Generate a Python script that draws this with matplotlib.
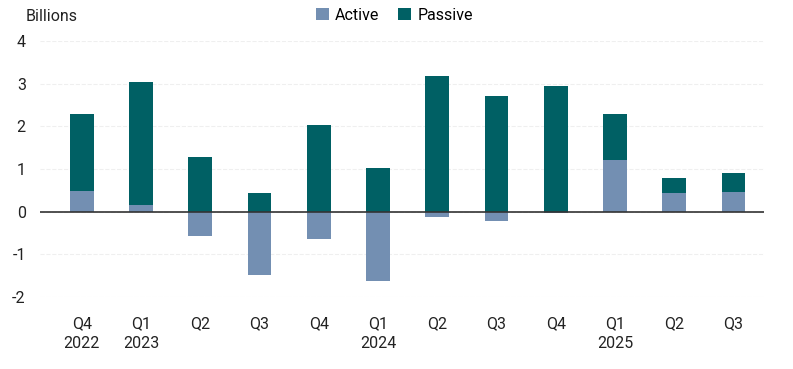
import matplotlib.pyplot as plt

plt.rcParams['font.family'] = ['Roboto', 'DejaVu Sans']
plt.rcParams['axes.unicode_minus'] = False

# Quarterly flows, billions
quarters = ['Q4\n2022', 'Q1\n2023', 'Q2', 'Q3', 'Q4', 'Q1\n2024',
            'Q2', 'Q3', 'Q4', 'Q1\n2025', 'Q2', 'Q3']
active = [0.48, 0.15, -0.57, -1.48, -0.65, -1.62, -0.12, -0.22, -0.03, 1.20, 0.43, 0.45]
passive = [1.80, 2.90, 1.27, 0.43, 2.03, 1.03, 3.17, 2.70, 2.95, 1.08, 0.37, 0.45]

active_color = '#738fb2'
passive_color = '#006064'
fs = 11.5

fig = plt.figure(figsize=(7.93, 3.69), dpi=100)
ax = fig.add_axes([0.050, 0.195, 0.913, 0.694])

x = range(len(quarters))
# passive stacks on top of active only when active is positive
base = [a if a > 0 else 0 for a in active]
ax.bar(x, active, width=0.4, color=active_color, label='Active', zorder=2)
ax.bar(x, passive, width=0.4, bottom=base, color=passive_color, label='Passive', zorder=2)

ax.set_xlim(-0.71, 11.51)
ax.set_ylim(-2, 4)
ax.set_yticks([-2, -1, 0, 1, 2, 3, 4])
ax.set_xticks(list(x))
ax.set_xticklabels(quarters, fontsize=fs, color='#222222', linespacing=1.4)
ax.tick_params(axis='y', labelsize=fs, colors='#222222', length=0, pad=10)
ax.tick_params(axis='x', length=0, pad=14)

ax.grid(axis='y', color='#efefef', linestyle='--', linewidth=0.8, zorder=0)
ax.axhline(0, color='#333333', linewidth=1.2, zorder=3)
for s in ax.spines.values():
    s.set_visible(False)

fig.text(0.032, 0.955, 'Billions', fontsize=fs, color='#222222', va='center')
ax.legend(loc='center', bbox_to_anchor=(0.49, 1.10), ncol=2, frameon=False,
          fontsize=fs, handlelength=0.8, handleheight=0.8, handletextpad=0.4,
          columnspacing=1.2)

fig.savefig('out.png', dpi=100)
